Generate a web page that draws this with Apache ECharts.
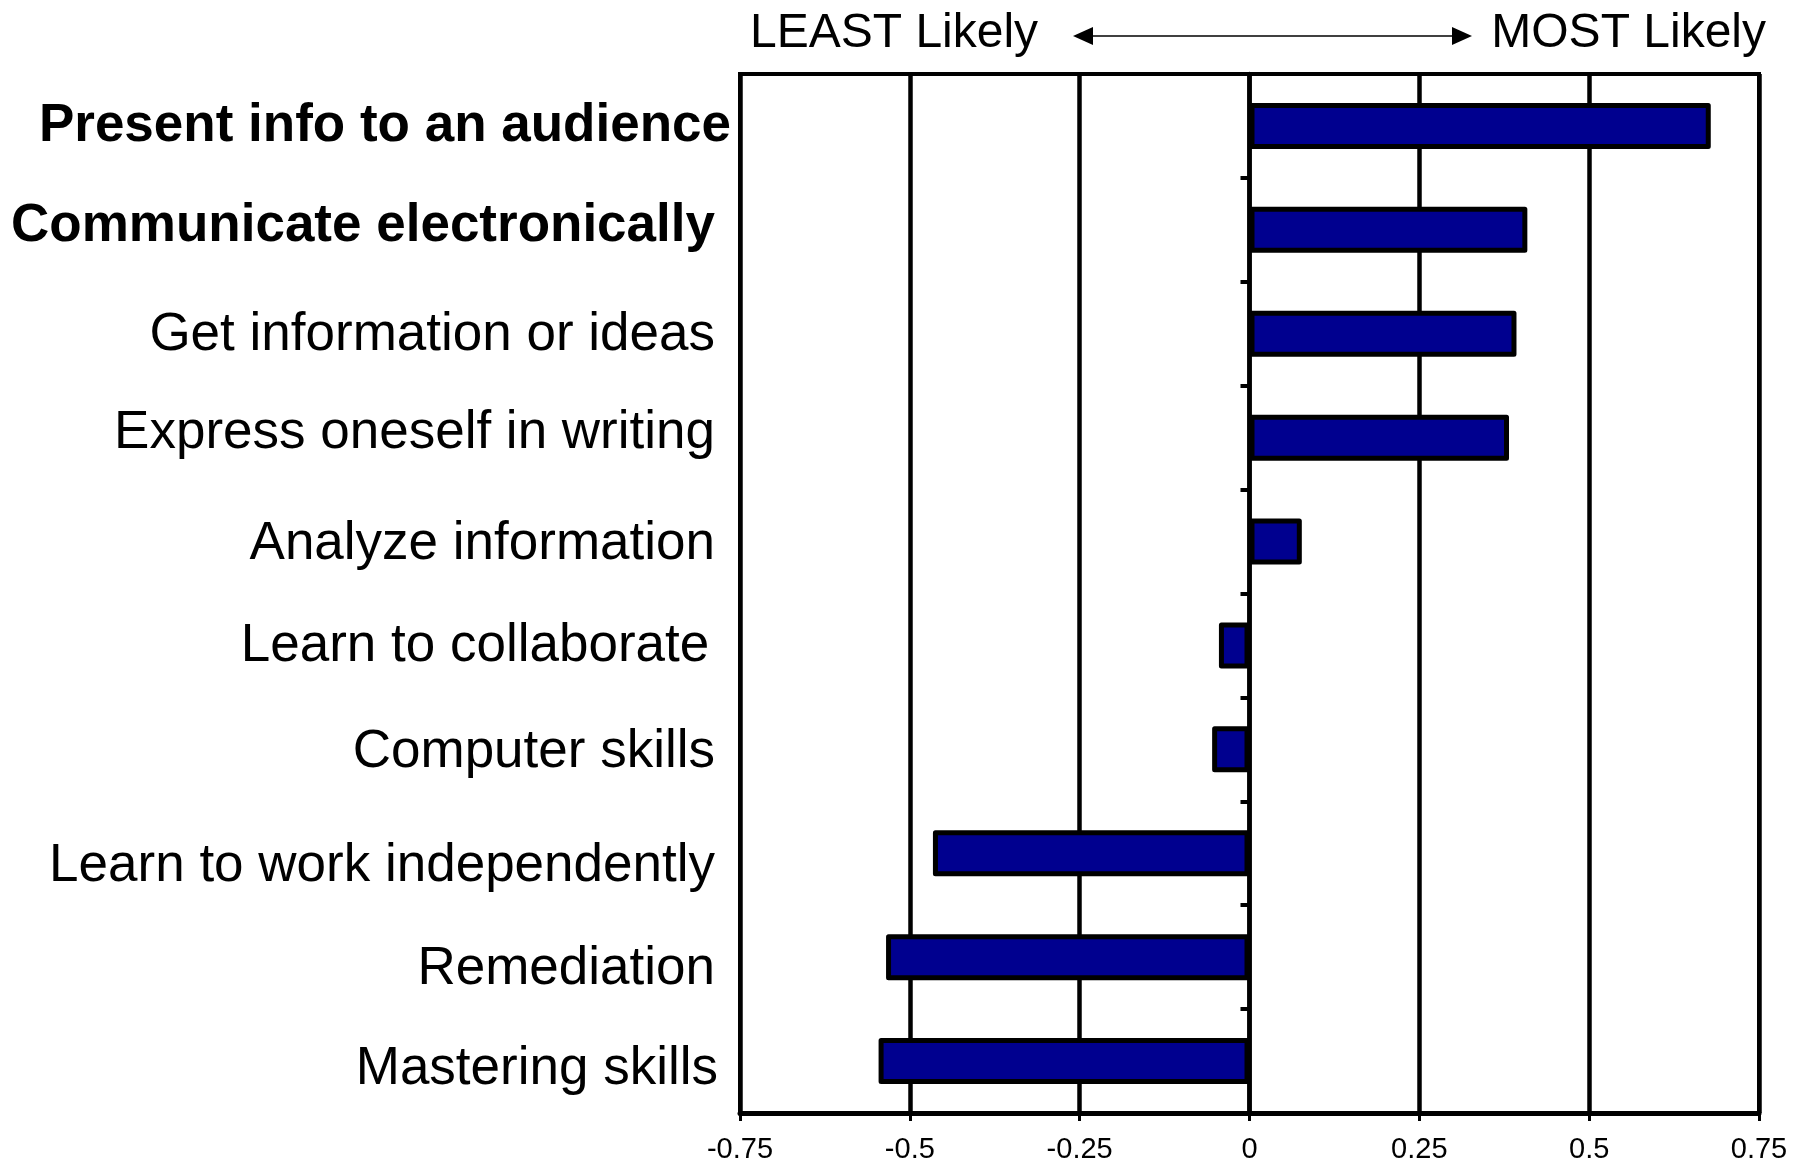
<!DOCTYPE html>
<html>
<head>
<meta charset="utf-8">
<script src="https://cdn.jsdelivr.net/npm/echarts@6/dist/echarts.min.js"></script>
<style>
html,body{margin:0;padding:0;background:#fff;}
#chart{width:1808px;height:1165px;}
</style>
</head>
<body>
<div id="chart"></div>
<script>
// ---- data ----
var categories = [
  'Present info to an audience',
  'Communicate electronically',
  'Get information or ideas',
  'Express oneself in writing',
  'Analyze information',
  'Learn to collaborate ',
  'Computer skills',
  'Learn to work independently',
  'Remediation',
  'Mastering skills'
];
var boldCategories = ['Present info to an audience', 'Communicate electronically'];
var values = [0.679, 0.409, 0.393, 0.382, 0.077, -0.045, -0.055, -0.466, -0.535, -0.546];
var xTicks = [-0.75, -0.5, -0.25, 0, 0.25, 0.5, 0.75];
var leftHeader = 'LEAST Likely';
var rightHeader = 'MOST Likely';

// ---- label styling (vertical nudge in px, right overhang in px) ----
var labelNudgeY = [0, -3, 2, -4, 3, 1, 3, 13, 12, 8];
var labelOverhang = [16, 0, 0, 0, 0, 9, 0, 0, 0, 3];

var FONT = '"Liberation Sans", Arial, sans-serif';
var LABEL_SIZE = 53;

var rich = {};
categories.forEach(function (c, i) {
  var d = labelNudgeY[i];
  rich['r' + i] = {
    fontFamily: FONT,
    fontSize: LABEL_SIZE,
    fontWeight: boldCategories.indexOf(c) >= 0 ? 'bold' : 'normal',
    color: '#000',
    padding: [d > 0 ? 2 * d : 0, -labelOverhang[i], d < 0 ? -2 * d : 0, 0]
  };
});

var chart = echarts.init(document.getElementById('chart'));

chart.setOption({
  backgroundColor: '#ffffff',
  animation: false,
  grid: {
    left: 740, right: 49, top: 74, bottom: 52,
    show: true, borderColor: '#000', borderWidth: 4, backgroundColor: 'transparent'
  },
  xAxis: {
    type: 'value',
    min: xTicks[0],
    max: xTicks[xTicks.length - 1],
    interval: xTicks[1] - xTicks[0],
    axisLine: { show: true, lineStyle: { color: '#000', width: 5 } },
    axisTick: { show: true, length: 8, lineStyle: { color: '#000', width: 3 } },
    axisLabel: { color: '#000', fontFamily: FONT, fontSize: 29, margin: 22 },
    splitLine: { show: true, lineStyle: { color: '#000', width: 4.5 } }
  },
  yAxis: [
    {
      type: 'category',
      data: categories,
      inverse: true,
      axisLine: { show: false, onZero: false },
      axisTick: { show: false },
      splitLine: { show: false },
      axisLabel: {
        margin: 25,
        color: '#000',
        fontFamily: FONT,
        fontSize: LABEL_SIZE,
        formatter: function (v, i) {
          return '{r' + i + '|' + v + '}';
        },
        rich: rich
      }
    },
    {
      type: 'category',
      data: categories,
      inverse: true,
      position: 'left',
      axisLine: { show: true, onZero: true, lineStyle: { color: '#000', width: 4.5 } },
      axisTick: { show: true, length: 9, alignWithLabel: false, lineStyle: { color: '#000', width: 4 } },
      axisLabel: { show: false },
      splitLine: { show: false }
    }
  ],
  series: [{
    type: 'bar',
    yAxisIndex: 0,
    data: values,
    barWidth: 46,
    itemStyle: { color: '#00008f', borderColor: '#000', borderWidth: 5, borderJoin: 'round' }
  }],
  graphic: [
    { type: 'text', left: 750, top: 10,
      style: { text: leftHeader, font: '48px ' + FONT, fill: '#000' } },
    { type: 'text', right: 42, top: 10,
      style: { text: rightHeader, font: '48px ' + FONT, fill: '#000' } },
    { type: 'line', shape: { x1: 1085, y1: 36, x2: 1460, y2: 36 },
      style: { stroke: '#000', lineWidth: 1.5 } },
    { type: 'polygon', shape: { points: [[1073, 36], [1093, 27], [1093, 45]] },
      style: { fill: '#000' } },
    { type: 'polygon', shape: { points: [[1472, 36], [1452, 27], [1452, 45]] },
      style: { fill: '#000' } }
  ]
});
</script>
</body>
</html>
